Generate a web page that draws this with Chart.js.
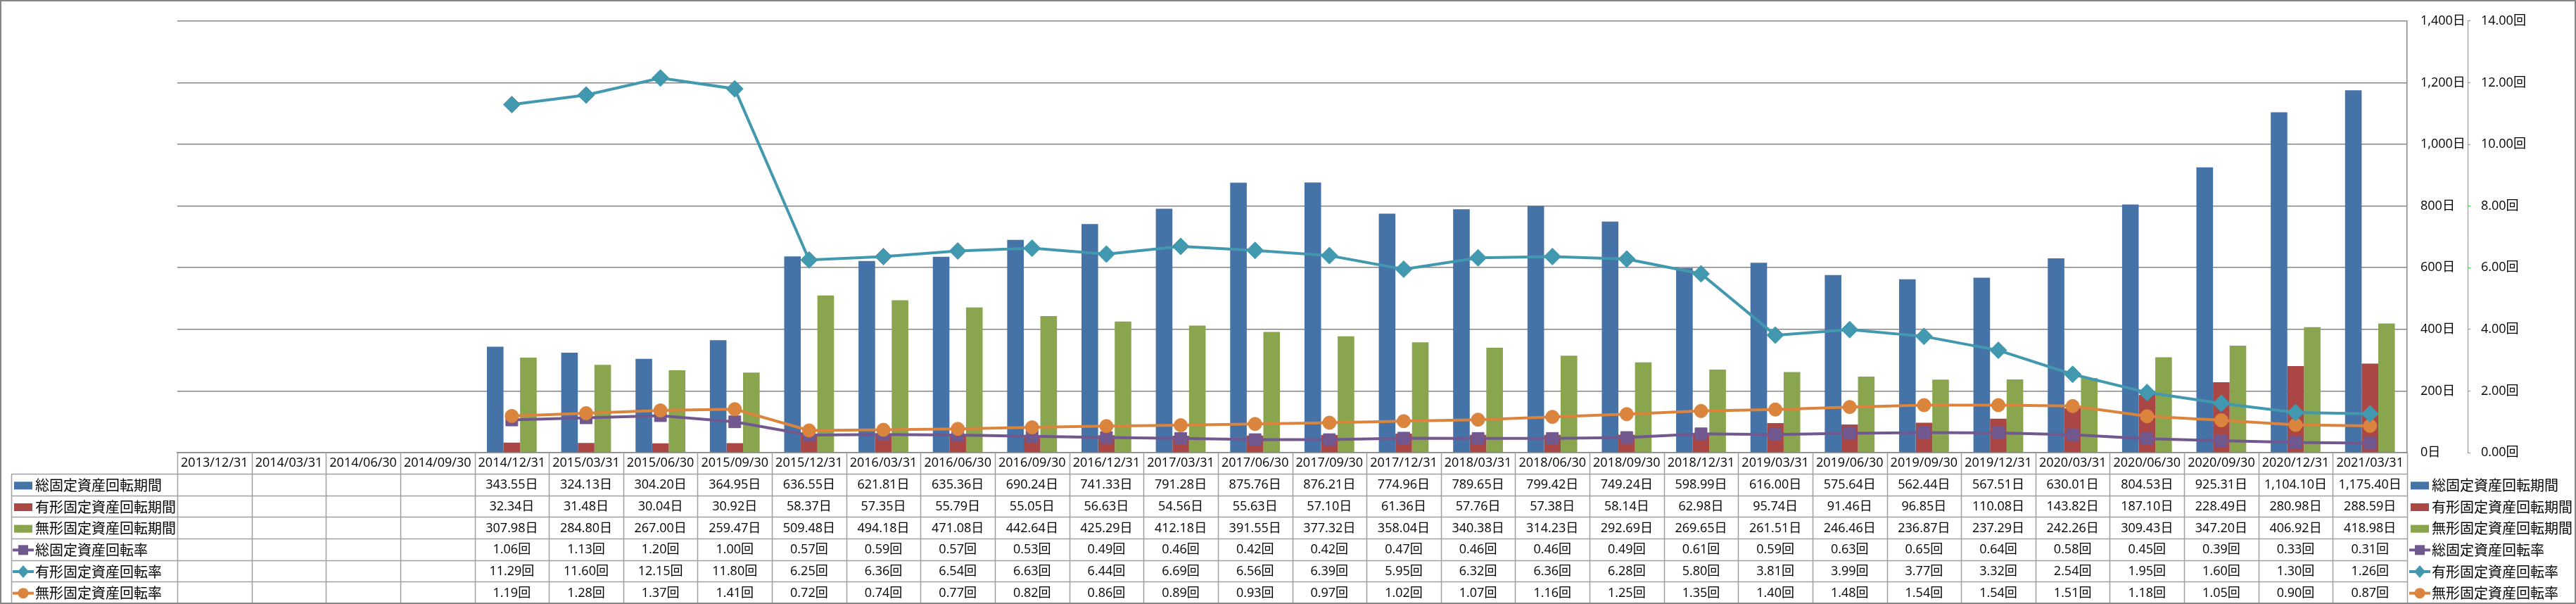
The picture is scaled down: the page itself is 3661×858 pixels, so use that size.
<!DOCTYPE html>
<html>
<head>
<meta charset="utf-8">
<script src="https://cdn.jsdelivr.net/npm/chart.js@4.4.1/dist/chart.umd.min.js"></script>
<style>
  html, body { margin: 0; padding: 0; background: #fff; }
  canvas { display: block; }
</style>
</head>
<body>
<canvas id="chartTurnover" width="3661" height="858"></canvas>
<script>
// 期末日
const periods = [
  "2013/12/31", "2014/03/31", "2014/06/30", "2014/09/30", "2014/12/31",
  "2015/03/31", "2015/06/30", "2015/09/30", "2015/12/31", "2016/03/31",
  "2016/06/30", "2016/09/30", "2016/12/31", "2017/03/31", "2017/06/30",
  "2017/09/30", "2017/12/31", "2018/03/31", "2018/06/30", "2018/09/30",
  "2018/12/31", "2019/03/31", "2019/06/30", "2019/09/30", "2019/12/31",
  "2020/03/31", "2020/06/30", "2020/09/30", "2020/12/31", "2021/03/31"
];

// 回転期間 (日)
const totalDays = [null, null, null, null,
  343.55, 324.13, 304.20, 364.95, 636.55, 621.81, 635.36, 690.24, 741.33, 791.28,
  875.76, 876.21, 774.96, 789.65, 799.42, 749.24, 598.99, 616.00, 575.64, 562.44,
  567.51, 630.01, 804.53, 925.31, 1104.10, 1175.40];
const tangibleDays = [null, null, null, null,
  32.34, 31.48, 30.04, 30.92, 58.37, 57.35, 55.79, 55.05, 56.63, 54.56,
  55.63, 57.10, 61.36, 57.76, 57.38, 58.14, 62.98, 95.74, 91.46, 96.85,
  110.08, 143.82, 187.10, 228.49, 280.98, 288.59];
const intangibleDays = [null, null, null, null,
  307.98, 284.80, 267.00, 259.47, 509.48, 494.18, 471.08, 442.64, 425.29, 412.18,
  391.55, 377.32, 358.04, 340.38, 314.23, 292.69, 269.65, 261.51, 246.46, 236.87,
  237.29, 242.26, 309.43, 347.20, 406.92, 418.98];

// 回転率 (回)
const totalRate = [null, null, null, null,
  1.06, 1.13, 1.20, 1.00, 0.57, 0.59, 0.57, 0.53, 0.49, 0.46,
  0.42, 0.42, 0.47, 0.46, 0.46, 0.49, 0.61, 0.59, 0.63, 0.65,
  0.64, 0.58, 0.45, 0.39, 0.33, 0.31];
const tangibleRate = [null, null, null, null,
  11.29, 11.60, 12.15, 11.80, 6.25, 6.36, 6.54, 6.63, 6.44, 6.69,
  6.56, 6.39, 5.95, 6.32, 6.36, 6.28, 5.80, 3.81, 3.99, 3.77,
  3.32, 2.54, 1.95, 1.60, 1.30, 1.26];
const intangibleRate = [null, null, null, null,
  1.19, 1.28, 1.37, 1.41, 0.72, 0.74, 0.77, 0.82, 0.86, 0.89,
  0.93, 0.97, 1.02, 1.07, 1.16, 1.25, 1.35, 1.40, 1.48, 1.54,
  1.54, 1.51, 1.18, 1.05, 0.90, 0.87];

const FONT_NUM = "'Open Sans', 'Noto Sans CJK JP', sans-serif";
const FONT_JP = "'Noto Sans CJK JP', sans-serif";
const GRID = "#868686";
const TABLE_LINE = "#a0a0a0";

function fmtDays(v) {
  return v.toLocaleString("en-US", { minimumFractionDigits: 2, maximumFractionDigits: 2 }) + "日";
}
function fmtRate(v) {
  return v.toFixed(2) + "回";
}

// legend / table key
function drawKey(ctx, ds, x, y, keyW) {
  ctx.save();
  if (ds.type === "bar") {
    ctx.fillStyle = ds.backgroundColor;
    ctx.fillRect(x, y - 5, keyW, 11);
  } else {
    ctx.strokeStyle = ds.borderColor;
    ctx.lineWidth = 4;
    ctx.beginPath();
    ctx.moveTo(x - 2, y);
    ctx.lineTo(x + keyW + 2, y);
    ctx.stroke();
    ctx.fillStyle = ds.borderColor;
    const cx = x + keyW / 2;
    ctx.beginPath();
    if (ds.pointStyle === "rect") {
      ctx.rect(cx - 7, y - 7, 14, 14);
    } else if (ds.pointStyle === "rectRot") {
      ctx.moveTo(cx, y - 9); ctx.lineTo(cx + 8, y); ctx.lineTo(cx, y + 9); ctx.lineTo(cx - 8, y);
      ctx.closePath();
    } else {
      ctx.arc(cx, y, 7.5, 0, Math.PI * 2);
    }
    ctx.fill();
  }
  ctx.restore();
}

const dataTable = {
  id: "dataTable",
  beforeDraw(chart) {
    const ctx = chart.ctx;
    ctx.save();
    ctx.fillStyle = "#ffffff";
    ctx.fillRect(0, 0, chart.width, chart.height);
    ctx.restore();
  },
  afterDraw(chart) {
    const ctx = chart.ctx;
    const area = chart.chartArea;
    const xs = chart.scales.x;
    const sets = chart.data.datasets;
    const n = periods.length;
    const colW = (area.right - area.left) / n;
    const headTop = area.bottom;
    const headBottom = xs.bottom;
    const rowH = (chart.height - headBottom) / sets.length;
    const tableLeft = 16;

    ctx.save();
    ctx.strokeStyle = TABLE_LINE;
    ctx.lineWidth = 1.5;
    ctx.beginPath();
    // columns
    for (let i = 0; i <= n; i++) {
      const x = Math.round(area.left + colW * i) + 0.5;
      ctx.moveTo(x, headTop);
      ctx.lineTo(x, chart.height);
    }
    // rows
    for (let r = 0; r <= sets.length; r++) {
      const y = Math.round(headBottom + rowH * r) - 0.5;
      ctx.moveTo(tableLeft, y);
      ctx.lineTo(area.right, y);
    }
    ctx.moveTo(tableLeft + 0.5, headBottom);
    ctx.lineTo(tableLeft + 0.5, chart.height);
    ctx.stroke();

    // cells
    ctx.fillStyle = "#000";
    ctx.textBaseline = "middle";
    sets.forEach((ds, r) => {
      const cy = headBottom + rowH * (r + 0.5);
      ctx.font = "18px " + FONT_NUM;
      ctx.textAlign = "center";
      ds.data.forEach((v, i) => {
        if (v == null) return;
        ctx.fillText(r < 3 ? fmtDays(v) : fmtRate(v), xs.getPixelForValue(i), cy);
      });
      // row labels
      ctx.font = "20px " + FONT_JP;
      ctx.textAlign = "left";
      drawKey(ctx, ds, 20, cy, 26);
      ctx.fillText(ds.label, 50, cy);
      // legend on the right
      drawKey(ctx, ds, 3426, cy, 26);
      ctx.fillText(ds.label, 3456, cy);
    });

    // outer frame
    ctx.strokeStyle = GRID;
    ctx.lineWidth = 2;
    ctx.strokeRect(1, 1, chart.width - 2, chart.height - 2);
    ctx.restore();
  }
};

new Chart(document.getElementById("chartTurnover"), {
  data: {
    labels: periods,
    datasets: [
      {
        type: "bar",
        label: "総固定資産回転期間",
        data: totalDays,
        backgroundColor: "#4572A7",
        yAxisID: "y",
        order: 10,
      },
      {
        type: "bar",
        label: "有形固定資産回転期間",
        data: tangibleDays,
        backgroundColor: "#AA4643",
        yAxisID: "y",
        order: 10,
      },
      {
        type: "bar",
        label: "無形固定資産回転期間",
        data: intangibleDays,
        backgroundColor: "#89A54E",
        yAxisID: "y",
        order: 10,
      },
      {
        type: "line",
        label: "総固定資産回転率",
        data: totalRate,
        borderColor: "#71588F",
        backgroundColor: "#71588F",
        pointStyle: "rect",
        pointRadius: 12,
        borderWidth: 4,
        yAxisID: "y1",
        order: 3,
      },
      {
        type: "line",
        label: "有形固定資産回転率",
        data: tangibleRate,
        borderColor: "#4198AF",
        backgroundColor: "#4198AF",
        pointStyle: "rectRot",
        pointRadius: 12,
        borderWidth: 4,
        yAxisID: "y1",
        order: 1,
      },
      {
        type: "line",
        label: "無形固定資産回転率",
        data: intangibleRate,
        borderColor: "#DB843D",
        backgroundColor: "#DB843D",
        pointStyle: "circle",
        pointRadius: 9.5,
        borderWidth: 4,
        yAxisID: "y1",
        order: 2,
      },
    ],
  },
  options: {
    responsive: false,
    devicePixelRatio: 1,
    animation: false,
    layout: { padding: { left: 252, top: 14, right: 0, bottom: 184 } },
    datasets: {
      bar: { barPercentage: 1.0, categoryPercentage: 0.67, borderWidth: 0 },
      line: { pointBorderWidth: 1, pointHoverRadius: 12 },
    },
    plugins: {
      legend: { display: false },
      tooltip: { enabled: false },
    },
    scales: {
      x: {
        grid: { display: false, drawTicks: false },
        border: { display: true, color: GRID, width: 1.5 },
        ticks: {
          color: "#000",
          font: { family: FONT_NUM, size: 18 },
          padding: 4,
          maxRotation: 0,
          autoSkip: false,
        },
        afterFit: (scale) => { scale.height = 31; },
      },
      y: {
        position: "right",
        min: 0,
        max: 1400,
        grid: { color: GRID, lineWidth: 1.5, drawTicks: false },
        border: { display: true, color: GRID, width: 1.5 },
        ticks: {
          stepSize: 200,
          padding: 19,
          color: "#000",
          font: { family: FONT_NUM, size: 18 },
          callback: (v) => v.toLocaleString("en-US") + "日",
        },
        afterFit: (scale) => { scale.width = 86; },
      },
      y1: {
        position: "right",
        min: 0,
        max: 14,
        grid: { drawOnChartArea: false, drawTicks: true, tickLength: 4, color: "#22dd22" },
        border: { display: true, color: "#22dd22", width: 1, dash: [4, 3] },
        ticks: {
          stepSize: 2,
          padding: 15,
          color: "#000",
          font: { family: FONT_NUM, size: 18 },
          callback: (v) => v.toFixed(2) + "回",
        },
        afterFit: (scale) => { scale.width = 154; },
      },
    },
  },
  plugins: [dataTable],
});
</script>
</body>
</html>
